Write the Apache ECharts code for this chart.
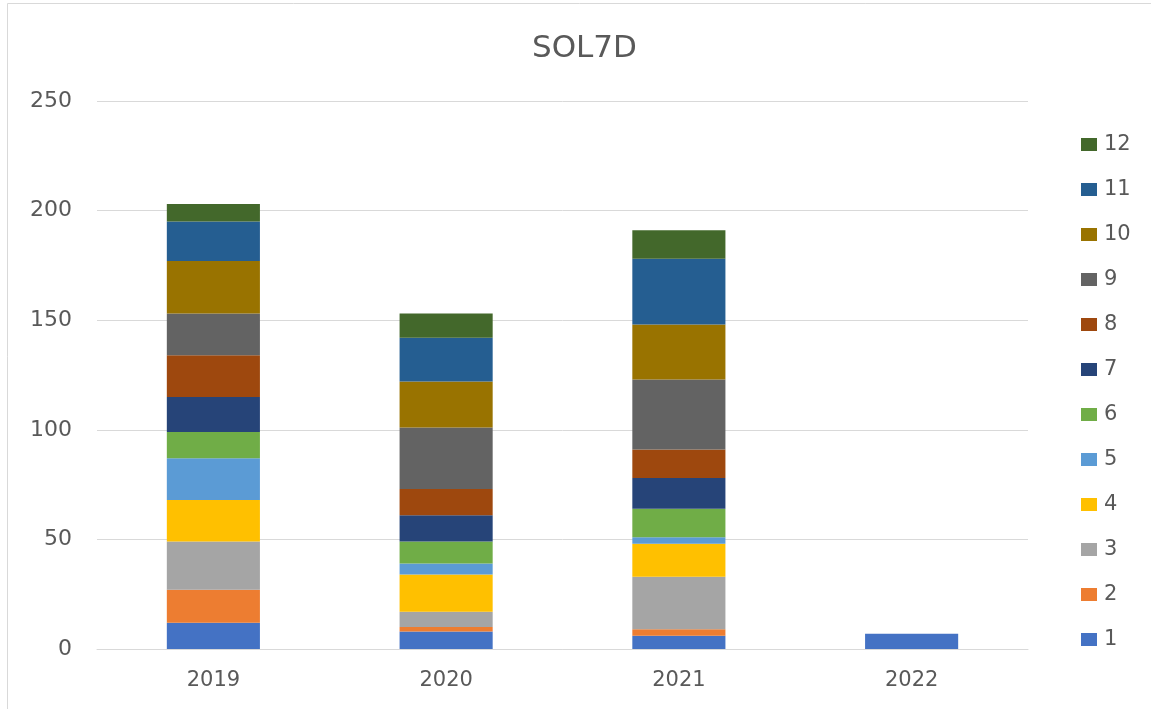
<!DOCTYPE html>
<html>
<head>
<meta charset="utf-8">
<script src="https://cdn.jsdelivr.net/npm/echarts@6/dist/echarts.min.js"></script>
<style>
  html, body { margin: 0; padding: 0; background: #fff; }
  #chart { width: 1151px; height: 709px; }
</style>
</head>
<body>
<div id="chart"></div>
<script>
// years on the x axis
var years = ['2019', '2020', '2021', '2022'];
// one array per month, values per year
var m1 = [12, 8, 6, 7];
var m2 = [15, 2, 3, null];
var m3 = [22, 7, 24, null];
var m4 = [19, 17, 15, null];
var m5 = [19, 5, 3, null];
var m6 = [12, 10, 13, null];
var m7 = [16, 12, 14, null];
var m8 = [19, 12, 13, null];
var m9 = [19, 28, 32, null];
var m10 = [24, 21, 25, null];
var m11 = [18, 20, 30, null];
var m12 = [8, 11, 13, null];
var yTicks = [0, 50, 100, 150, 200, 250];

var monthNames = ['1', '2', '3', '4', '5', '6', '7', '8', '9', '10', '11', '12'];
var monthData = [m1, m2, m3, m4, m5, m6, m7, m8, m9, m10, m11, m12];
var colors = ['#4472c4', '#ed7d31', '#a5a5a5', '#ffc000', '#5b9bd5', '#70ad47',
              '#264478', '#9e480e', '#636363', '#997300', '#255e91', '#43682b'];

var textColor = '#595959';
var font = '"DejaVu Sans", "Noto Sans", sans-serif';

var myChart = echarts.init(document.getElementById('chart'));

var option = {
  animation: false,
  color: colors,
  title: {
    text: 'SOL7D',
    left: 527,
    top: 28,
    textStyle: { color: textColor, fontSize: 31, fontWeight: 'normal', fontFamily: font }
  },
  graphic: [{
    type: 'rect',
    shape: { x: 7.5, y: 3.5, width: 1160, height: 720 },
    style: { fill: 'none', stroke: '#d9d9d9', lineWidth: 1 },
    silent: true
  }],
  legend: {
    orient: 'vertical',
    left: 1076,
    top: 129,
    itemWidth: 16,
    itemHeight: 13,
    itemGap: 24,
    icon: 'rect',
    data: monthNames.slice().reverse(),
    textStyle: { color: textColor, fontSize: 21, fontFamily: font, padding: [0, 0, 0, 2] }
  },
  grid: {
    left: 97,
    right: 123,
    top: 101,
    bottom: 60
  },
  xAxis: {
    type: 'category',
    data: years,
    axisLine: { lineStyle: { color: '#d9d9d9', width: 1 } },
    axisTick: { show: false },
    axisLabel: { color: textColor, fontSize: 21, fontFamily: font, margin: 21 }
  },
  yAxis: {
    type: 'value',
    min: yTicks[0],
    max: yTicks[yTicks.length - 1],
    interval: 50,
    axisLine: { show: false },
    axisTick: { show: false },
    splitLine: { lineStyle: { color: '#d9d9d9', width: 1 } },
    axisLabel: { color: textColor, fontSize: 22, fontFamily: font, margin: 25 }
  },
  series: monthNames.map(function (name, i) {
    return {
      name: name,
      type: 'bar',
      stack: 'total',
      barWidth: '40%',
      data: monthData[i]
    };
  })
};

myChart.setOption(option);

window.addEventListener('resize', function () {
  myChart.resize();
});
</script>
</body>
</html>
